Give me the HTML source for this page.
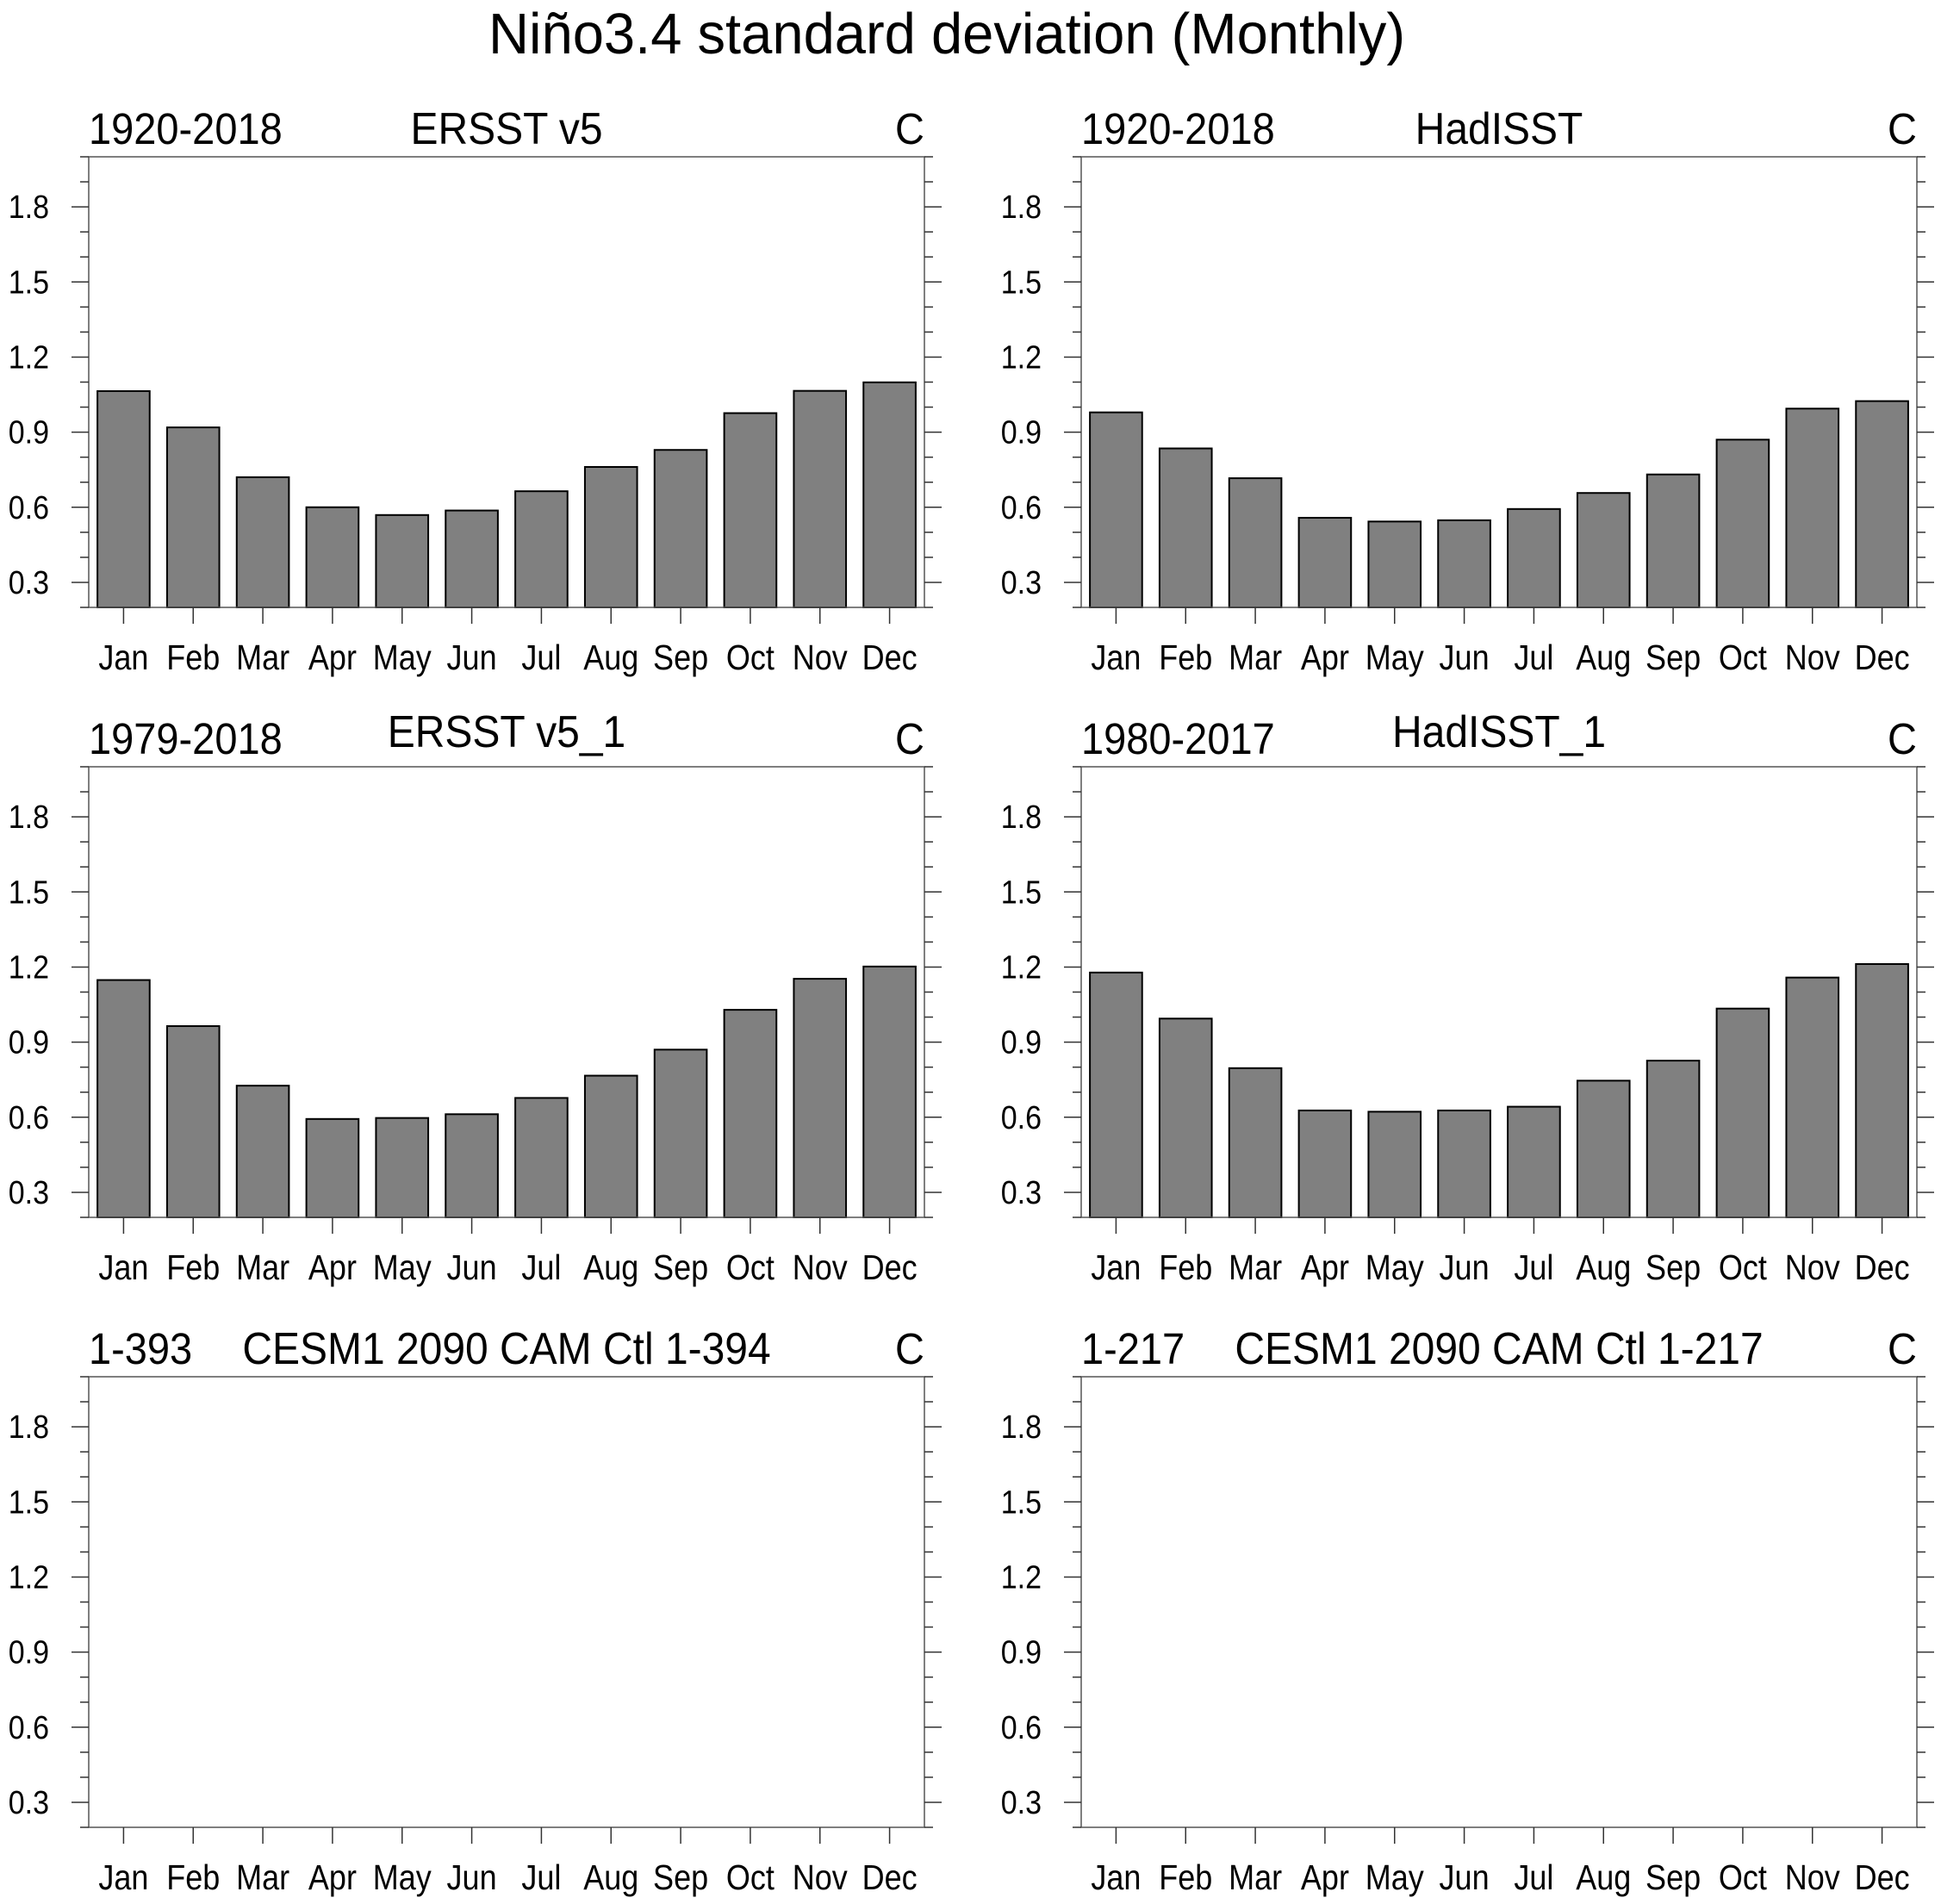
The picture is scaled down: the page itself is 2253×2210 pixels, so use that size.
<!DOCTYPE html>
<html><head><meta charset="utf-8"><style>
html,body{margin:0;padding:0;background:#fff;}
svg{display:block;font-family:"Liberation Sans",Arial,sans-serif;}
</style></head><body>
<svg id="c" width="2253" height="2210" viewBox="0 0 2253 2210" xmlns="http://www.w3.org/2000/svg">
<g transform="translate(1099,62) scale(1,1.12)"><text x="0" y="0" font-size="60" text-anchor="middle" textLength="1064" lengthAdjust="spacingAndGlyphs">Niño3.4 standard deviation (Monthly)</text></g>
</svg>
<script>
const months = ["Jan","Feb","Mar","Apr","May","Jun","Jul","Aug","Sep","Oct","Nov","Dec"];
const yTicks = [0.3,0.6,0.9,1.2,1.5,1.8];
const yTickLabels = ["0.3","0.6","0.9","1.2","1.5","1.8"];
const ersst = [1.064,0.919,0.720,0.600,0.569,0.587,0.664,0.761,0.829,0.976,1.065,1.099];
const hadisst = [0.979,0.835,0.716,0.558,0.543,0.548,0.593,0.657,0.731,0.870,0.994,1.024];
const ersst1 = [1.148,0.964,0.726,0.593,0.597,0.612,0.677,0.766,0.870,1.029,1.153,1.202];
const hadisst1 = [1.178,0.994,0.796,0.627,0.622,0.627,0.642,0.746,0.826,1.034,1.158,1.212];
const leftLabels = ["1920-2018","1920-2018","1979-2018","1980-2017","1-393","1-217"];
const centerLabels = ["ERSST v5","HadISST","ERSST v5_1","HadISST_1","CESM1 2090 CAM Ctl 1-394","CESM1 2090 CAM Ctl 1-217"];
const seriesList = [ersst,hadisst,ersst1,hadisst1,null,null];
const panelNames = ["ersst-v5","hadisst","ersst-v5-1","hadisst-1","cesm1-ctl-394","cesm1-ctl-217"];

const NS="http://www.w3.org/2000/svg";
const svg=document.getElementById('c');
function mk(tag,attrs,parent){const e=document.createElementNS(NS,tag);for(const k in attrs)e.setAttribute(k,attrs[k]);(parent||svg).appendChild(e);return e;}
function txt(parent,x,y,size,anchor,sy,str){
  const g=mk('g',{transform:'translate('+x+','+y+') scale(1,'+sy+')'},parent);
  const t=mk('text',{x:0,y:0,'font-size':size,'text-anchor':anchor},g);
  t.textContent=str;
  return t;
}
const W=970,H=523,yMin=0.2,yMax=2.0;
const lefts=[103,1255], tops=[182,890,1598];
for(let p=0;p<6;p++){
  const x0=lefts[p%2], y0=tops[Math.floor(p/2)];
  const g=mk('g',{});
  
  
  const sx=v=>x0+(v-0.5)/12*W;
  const sy=v=>y0+H-(v-yMin)/(yMax-yMin)*H;
  const data=seriesList[p];
  if(data){
    data.forEach((v,i)=>{
      const bw=W/12*0.75;
      const r=mk('rect',{x:sx(i+1)-bw/2,y:sy(v),width:bw,height:sy(yMin)-sy(v),fill:'#808080',stroke:'#000','stroke-width':2},g);
      
      
    });
  }
  const fr=mk('rect',{x:x0,y:y0,width:W,height:H,fill:'none',stroke:'#555','stroke-width':1.5},g);
  
  
  for(let k=2;k<=20;k++){
    const v=k/10, yy=sy(v);
    const major=yTicks.some(t=>Math.abs(t-v)<1e-6);
    const L=major?20:10;
    mk('line',{x1:x0-L,y1:yy,x2:x0,y2:yy,stroke:'#333','stroke-width':1.5},g);
    mk('line',{x1:x0+W,y1:yy,x2:x0+W+L,y2:yy,stroke:'#333','stroke-width':1.5},g);
  }
  yTicks.forEach((t,i)=>{
    const tx=txt(g,x0-46,sy(t)+13,34,'end',1.12,yTickLabels[i]);
    
    
  });
  months.forEach((m,i)=>{
    const xx=sx(i+1);
    mk('line',{x1:xx,y1:y0+H,x2:xx,y2:y0+H+19,stroke:'#333','stroke-width':1.5},g);
    const tx=txt(g,xx,y0+H+72,36,'middle',1.12,m);
    
    
  });
  const lt=txt(g,x0,y0-15,47,'start',1.08,leftLabels[p]);
  
  
  const ct=txt(g,x0+W/2,y0-15-(p>=2&&p<4?8:0),48,'middle',1.08,centerLabels[p]);
  
  
  const rt=txt(g,x0+W,y0-15,47,'end',1.08,'C');
  
  
}
</script>
</body></html>
